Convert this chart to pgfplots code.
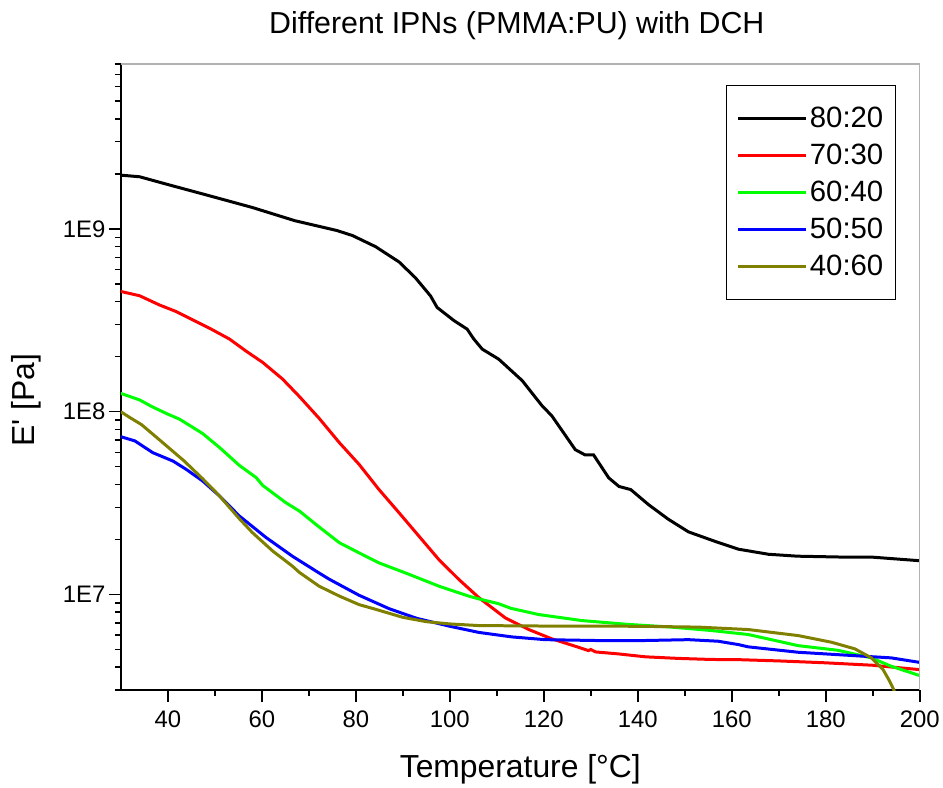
\documentclass[border=0pt]{standalone}
\usepackage{fontspec}
\setmainfont{Liberation Sans}
\usepackage{pgfplots}
\pgfplotsset{compat=1.18}
\definecolor{olivec}{RGB}{128,128,0}
\definecolor{greenc}{RGB}{0,255,0}
\definecolor{redc}{RGB}{255,0,0}
\definecolor{bluec}{RGB}{0,0,255}
\begin{document}
\begin{tikzpicture}
\begin{axis}[
  scale only axis, width=800bp, height=627bp,
  xmin=30, xmax=200, ymode=log, ymin=3e6, ymax=8e9,
  axis x line*=bottom, axis y line*=left,
  axis line style={-, line width=2bp, black},
  xtick={40,60,80,100,120,140,160,180,200},
  minor xtick={50,70,90,110,130,150,170,190},
  ytick={1e7,1e8,1e9}, yticklabels={1E7,1E8,1E9},
  minor ytick={3e6,4e6,5e6,6e6,7e6,8e6,9e6,2e7,3e7,4e7,5e7,6e7,7e7,8e7,9e7,2e8,3e8,4e8,5e8,6e8,7e8,8e8,9e8,2e9,3e9,4e9,5e9,6e9,7e9,8e9},
  tick align=outside, major tick length=12bp, minor tick length=6bp,
  every tick/.style={black, line width=1.5bp},
  /pgf/number format/assume math mode=true,
  ticklabel style={font=\fontsize{24}{28}\selectfont},
  xticklabel style={yshift=-5bp},
  xlabel={Temperature [°C]}, ylabel={E\textquotesingle\ [Pa]},
  label style={font=\fontsize{32}{37}\selectfont},
  xlabel style={at={(axis description cs:0.5,0)}, anchor=base, yshift=-88bp},
  ylabel style={at={(axis description cs:-0.1075,0.4625)}, anchor=base},
  title={Different IPNs (PMMA:PU) with DCH},
  title style={font=\fontsize{30.5}{35}\selectfont, at={(axis description cs:0.5,1)}, anchor=base, yshift=24bp, xshift=-3.5bp},
  legend style={at={(0.97,0.9665)}, anchor=north east, draw=black, line width=1bp,
    font=\fontsize{29.5}{34}\selectfont, inner xsep=10bp, inner ysep=20bp, row sep=11bp,
    /tikz/every even column/.append style={column sep=6bp}},
  legend cell align=left,
  legend image code/.code={\draw[#1, line width=3bp] (0bp,0bp) -- (68bp,0bp);},
]
\addplot[black, line width=3bp] coordinates {
(30,1.97e9) (34,1.93e9) (40,1.75e9) (48,1.54e9) (58,1.31e9) (67,1.11e9) (76,0.98e9)
(79.3,0.92e9) (84.2,8.0e8) (89.2,6.6e8) (92.7,5.4e8) (95.9,4.3e8) (97.3,3.72e8)
(100.9,3.15e8) (103.7,2.83e8) (105.1,2.5e8) (106.9,2.2e8) (110.4,1.94e8) (115.4,1.48e8)
(119.6,1.08e8) (121.7,9.5e7) (126.7,6.2e7) (128.8,5.8e7) (130.6,5.8e7) (133.8,4.35e7)
(136,3.9e7) (138.5,3.75e7) (142.3,3.1e7) (146.5,2.58e7) (150.8,2.2e7) (157,1.93e7)
(161.4,1.77e7) (167.8,1.66e7) (174,1.62e7) (184.7,1.6e7) (190,1.6e7) (200,1.53e7)
};
\addlegendentry{80:20}
\addplot[redc, line width=3bp] coordinates {
(30,4.55e8) (34,4.31e8) (38.2,3.84e8) (41.8,3.53e8) (45.3,3.18e8) (48.9,2.86e8)
(53.1,2.5e8) (56.6,2.15e8) (60.2,1.86e8) (64.4,1.51e8) (68,1.21e8) (72.2,9.2e7)
(76.5,6.77e7) (80.7,5.15e7) (84.9,3.76e7) (89.2,2.8e7) (93.4,2.09e7) (97.6,1.56e7)
(101.9,1.21e7) (106.2,9.6e6) (111.8,7.45e6) (116.8,6.43e6) (121.7,5.72e6) (127.4,5.14e6)
(129.5,4.93e6) (130,5.0e6) (131,4.85e6) (135.9,4.73e6) (141.6,4.56e6) (148.6,4.47e6)
(155.7,4.41e6) (161.4,4.4e6) (170,4.33e6) (179.8,4.23e6) (190,4.1e6) (200,3.88e6)
};
\addlegendentry{70:30}
\addplot[greenc, line width=3bp] coordinates {
(30,1.26e8) (34,1.16e8) (36.8,1.06e8) (40,9.7e7) (42.5,9.1e7) (47.4,7.6e7) (51,6.37e7)
(55.2,5.09e7) (58.8,4.36e7) (60.2,3.95e7) (65.1,3.18e7) (68,2.86e7) (72.2,2.34e7)
(76.5,1.92e7) (80.3,1.71e7) (84.9,1.49e7) (91.3,1.29e7) (97.7,1.11e7) (104,9.8e6)
(106.2,9.46e6) (110.4,8.9e6) (113,8.4e6) (118.9,7.77e6) (128.1,7.2e6) (138,6.86e6)
(147.2,6.63e6) (155.7,6.35e6) (163.5,6.04e6) (174.1,5.25e6) (182.6,4.95e6)
(189.7,4.5e6) (193.9,4.05e6) (200,3.6e6)
};
\addlegendentry{60:40}
\addplot[bluec, line width=3bp] coordinates {
(30,7.3e7) (33,6.92e7) (36.8,5.97e7) (41.1,5.37e7) (43.9,4.84e7) (47.4,4.18e7)
(51,3.46e7) (55.2,2.69e7) (60.9,2.05e7) (66.5,1.62e7) (72.2,1.31e7) (74.4,1.21e7)
(80.7,9.9e6) (87.1,8.36e6) (93,7.4e6) (100,6.7e6) (106.2,6.2e6) (113.2,5.86e6)
(120.3,5.66e6) (131,5.6e6) (141.6,5.6e6) (150.8,5.66e6) (157.1,5.55e6) (161.4,5.32e6)
(163.5,5.17e6) (174.1,4.83e6) (188.3,4.59e6) (193.9,4.5e6) (200,4.25e6)
};
\addlegendentry{50:50}
\addplot[olivec, line width=3bp] coordinates {
(30,1.0e8) (31.9,9.3e7) (34.4,8.5e7) (38.9,6.78e7) (43.5,5.37e7) (47.4,4.3e7)
(51,3.46e7) (55.2,2.6e7) (58,2.18e7) (62.3,1.73e7) (66.5,1.43e7) (68,1.32e7)
(72.2,1.11e7) (76.5,9.8e6) (80.7,8.8e6) (84.2,8.3e6) (90,7.5e6) (95,7.1e6)
(100,6.9e6) (106.2,6.76e6) (120,6.72e6) (140,6.7e6) (152.9,6.63e6) (163.5,6.43e6)
(174.1,5.96e6) (181.2,5.48e6) (186.2,5.04e6) (189.7,4.5e6) (192.2,3.88e6)
(193.6,3.35e6) (194.5,3.0e6) (195.2,2.6e6)
};
\addlegendentry{40:60}
\draw[gray!60, line width=1.5bp] (rel axis cs:0,1) -- (rel axis cs:1,1) -- (rel axis cs:1,0);
\end{axis}
\path ([xshift=-121bp,yshift=-93bp]current axis.south west) rectangle ([xshift=22bp,yshift=64bp]current axis.north east);
\end{tikzpicture}
\end{document}
